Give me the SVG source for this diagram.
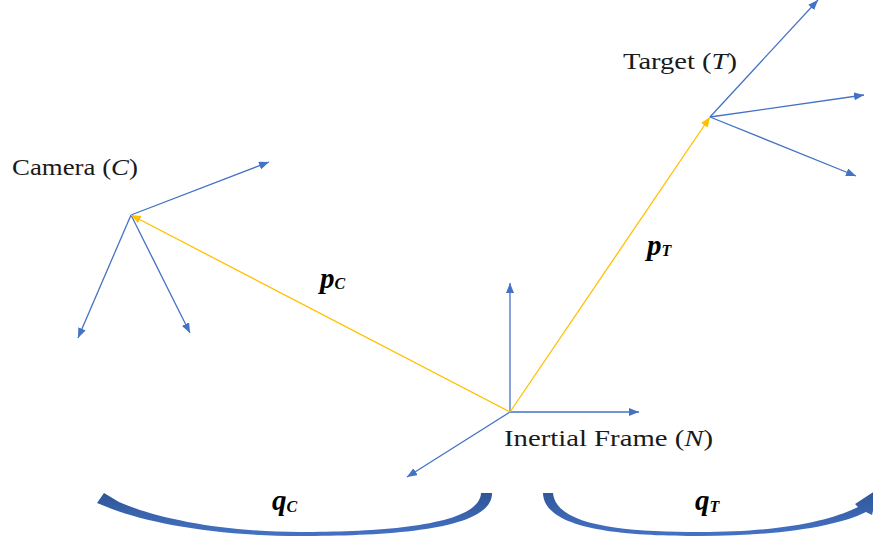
<svg xmlns="http://www.w3.org/2000/svg" width="873" height="544" viewBox="0 0 873 544">
  <defs>
    <marker id="ab" viewBox="0 0 10 8" markerWidth="10" markerHeight="8" refX="10" refY="4" orient="auto" markerUnits="userSpaceOnUse">
      <path d="M0,0 L10,4 L0,8 Z" fill="#4472C4"/>
    </marker>
    <marker id="ay" viewBox="0 0 10 8" markerWidth="10" markerHeight="8" refX="10" refY="4" orient="auto" markerUnits="userSpaceOnUse">
      <path d="M0,0 L10,4 L0,8 Z" fill="#FFC000"/>
    </marker>
    <linearGradient id="gr" x1="0" y1="0" x2="0" y2="1">
      <stop offset="0" stop-color="#2F5597"/>
      <stop offset="1" stop-color="#4472C4"/>
    </linearGradient>
  </defs>
  <style>
    .ax { stroke: #4472C4; stroke-width: 1.3; fill: none; marker-end: url(#ab); }
    .pv { stroke: #FFC000; stroke-width: 1.3; fill: none; marker-end: url(#ay); }
    .lbl { font-family: "Liberation Serif", serif; font-size: 24px; fill: #1a1a1a; }
    .it { font-style: italic; }
    .vec { font-family: "Liberation Serif", serif; font-size: 29px; font-weight: bold; font-style: italic; fill: #000; }
    .sub { font-family: "Liberation Serif", serif; font-size: 16px; font-style: italic; fill: #000; }
    .rot { fill: url(#gr); }
  </style>
  <rect width="873" height="544" fill="#ffffff"/>

  <g id="camera">
    <line class="ax" x1="131" y1="215" x2="269" y2="162"/>
    <line class="ax" x1="131" y1="215" x2="78" y2="338"/>
    <line class="ax" x1="131" y1="215" x2="190" y2="333"/>
    <text class="lbl" x="12" y="175" textLength="126" lengthAdjust="spacingAndGlyphs">Camera (<tspan class="it">C</tspan>)</text>
  </g>

  <g id="target">
    <line class="ax" x1="710" y1="117" x2="818" y2="0"/>
    <line class="ax" x1="710" y1="117" x2="864" y2="95"/>
    <line class="ax" x1="710" y1="117" x2="856" y2="176"/>
    <text class="lbl" x="623" y="69" textLength="114" lengthAdjust="spacingAndGlyphs">Target (<tspan class="it">T</tspan>)</text>
  </g>

  <g id="inertial">
    <line class="ax" x1="510" y1="412" x2="510" y2="283"/>
    <line class="ax" x1="510" y1="412" x2="639" y2="412"/>
    <line class="ax" x1="510" y1="412" x2="407" y2="477"/>
    <text class="lbl" x="504" y="446" textLength="209" lengthAdjust="spacingAndGlyphs">Inertial Frame (<tspan class="it">N</tspan>)</text>
  </g>

  <g id="connectors">
    <line class="pv" x1="510" y1="412" x2="131" y2="215"/>
    <line class="pv" x1="510" y1="412" x2="710" y2="117"/>
  </g>

  <g id="labels">
    <text class="vec" x="320" y="288">p<tspan class="sub" font-weight="bold" dy="1">C</tspan></text>
    <text class="vec" x="647" y="255">p<tspan class="sub" dy="1">T</tspan></text>
    <text class="vec" x="272" y="510">q<tspan class="sub" dy="2">C</tspan></text>
    <text class="vec" x="695" y="510">q<tspan class="sub" dy="2">T</tspan></text>
  </g>

  <g id="rotation-c">
    <path class="rot" d="M492,493 C493,529 395,536 300,536 C220,536 152,524 112,509 L97,503 L104,493 L119,502 C155,518 222,532 300,532 C385,532 480,525 481,493 Z"/>
  </g>
  <g id="rotation-t">
    <path class="rot" d="M543,493 C544,529 620,536 700,536 C780,536 838,526 866,512 L872,515 L878,489 L855,504 L858,507 C830,521 780,532 700,532 C625,532 556,526 553,493 Z"/>
  </g>
</svg>
